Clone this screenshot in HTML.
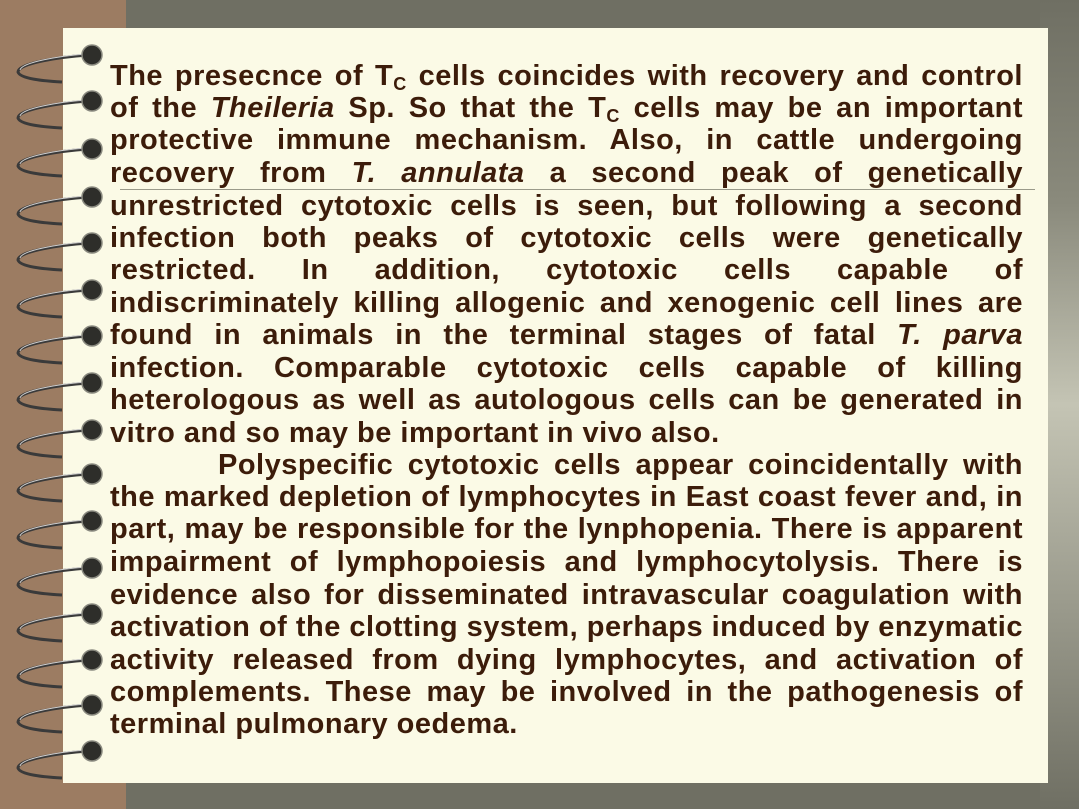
<!DOCTYPE html>
<html><head><meta charset="utf-8"><style>
html,body{margin:0;padding:0;width:1079px;height:809px;overflow:hidden}
body{position:relative;background:#6f6f63;font-family:"Liberation Sans",Arial,sans-serif}
#glow{position:absolute;left:1040px;top:0;width:39px;height:809px;background:linear-gradient(180deg,#6f6f63 0%,#8a8a7c 25%,#c4c4b4 50%,#9a9a8c 75%,#6f6f63 100%)}
#strip{position:absolute;left:0;top:0;width:126px;height:809px;background:#9c7c62}
#paper{position:absolute;left:63px;top:28px;width:985px;height:755px;background:#fbfae6}
.ln{position:absolute;left:110px;width:913px;font-size:29px;letter-spacing:0.5px;font-weight:bold;color:#3c1c0a;white-space:nowrap;text-align:justify;text-align-last:justify;line-height:30px}
.nl{text-align-last:left}
sub{font-size:18px;vertical-align:-5px;line-height:0}
#rule{position:absolute;left:120px;top:189px;width:915px;height:1px;background:#9a9a8a}
</style></head><body>
<div id="glow"></div>
<div id="strip"></div>
<div id="paper"></div>
<svg id="spirals" width="130" height="809" style="position:absolute;left:0;top:0"></svg>
<div id="rule"></div>
<div id="text">
<div class="ln" style="top:61px">The presecnce of T<sub>C</sub> cells coincides with recovery and control</div>
<div class="ln" style="top:93px">of the <i>Theileria</i> Sp. So that the T<sub>C</sub> cells may be an important</div>
<div class="ln" style="top:125px">protective immune mechanism. Also, in cattle undergoing</div>
<div class="ln" style="top:158px">recovery from <i>T. annulata</i> a second peak of genetically</div>
<div class="ln" style="top:191px">unrestricted cytotoxic cells is seen, but following a second</div>
<div class="ln" style="top:223px">infection both peaks of cytotoxic cells were genetically</div>
<div class="ln" style="top:255px">restricted. In addition, cytotoxic cells capable of</div>
<div class="ln" style="top:288px">indiscriminately killing allogenic and xenogenic cell lines are</div>
<div class="ln" style="top:320px">found in animals in the terminal stages of fatal <i>T. parva</i></div>
<div class="ln" style="top:353px">infection. Comparable cytotoxic cells capable of killing</div>
<div class="ln" style="top:385px">heterologous as well as autologous cells can be generated in</div>
<div class="ln nl" style="top:418px">vitro and so may be important in vivo also.</div>
<div class="ln" style="top:450px;left:218px;width:805px">Polyspecific cytotoxic cells appear coincidentally with</div>
<div class="ln" style="top:482px">the marked depletion of lymphocytes in East coast fever and, in</div>
<div class="ln" style="top:514px">part, may be responsible for the lynphopenia. There is apparent</div>
<div class="ln" style="top:547px">impairment of lymphopoiesis and lymphocytolysis. There is</div>
<div class="ln" style="top:580px">evidence also for disseminated intravascular coagulation with</div>
<div class="ln" style="top:612px">activation of the clotting system, perhaps induced by enzymatic</div>
<div class="ln" style="top:645px">activity released from dying lymphocytes, and activation of</div>
<div class="ln" style="top:677px">complements. These may be involved in the pathogenesis of</div>
<div class="ln nl" style="top:709px">terminal pulmonary oedema.</div>
</div>
<script>
const ringYs=[55,101,149,197,243,290,336,383,430,474,521,568,614,660,705,751];
const svg=document.getElementById('spirals');
const NS='http://www.w3.org/2000/svg';
ringYs.forEach(function(y){
  const p=document.createElementNS(NS,'path');
  p.setAttribute('d','M88 '+y+' C60 '+(y+2)+' 18 '+(y+8)+' 18 '+(y+17)+' C20 '+(y+24)+' 45 '+(y+26)+' 62 '+(y+27));
  p.setAttribute('fill','none');p.setAttribute('stroke','#3a3a3a');p.setAttribute('stroke-width','3');
  
  
  svg.appendChild(p);
  const h=document.createElementNS(NS,'path');
  h.setAttribute('d','M86 '+(y-1)+' C60 '+(y+1)+' 22 '+(y+7)+' 20 '+(y+15));
  h.setAttribute('fill','none');h.setAttribute('stroke','#cfcfcf');h.setAttribute('stroke-width','1');
  
  
  svg.appendChild(h);
  const c=document.createElementNS(NS,'circle');
  c.setAttribute('cx','92');c.setAttribute('cy',y);c.setAttribute('r','10');
  c.setAttribute('fill','#2e2e2a');c.setAttribute('stroke','#8a8a80');c.setAttribute('stroke-width','1.5');
  
  
  svg.appendChild(c);
});
</script>
</body></html>
